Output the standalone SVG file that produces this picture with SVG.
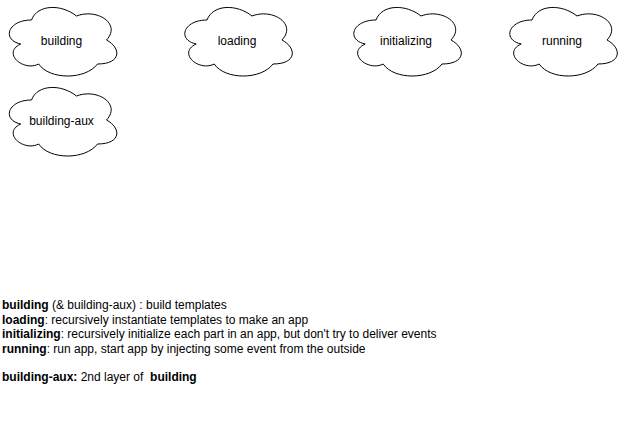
<svg xmlns="http://www.w3.org/2000/svg" width="621" height="421" viewBox="0 0 621 421">
<style>
.cloud{fill:#fff;stroke:#000;stroke-width:1}
.lbl{font-family:"Liberation Sans",Arial,sans-serif;font-size:12px;fill:#000;text-anchor:middle;dominant-baseline:central}
.desc{font-family:"Liberation Sans",Arial,sans-serif;font-size:12px;fill:#000}
.b{font-weight:bold}
</style>
<defs>
<path id="cl" d="M30 20 C6 20 0 40 19.2 44 C0 52.8 21.6 72 37.2 64 C48 80 84 80 96 64 C120 64 120 48 105 40 C120 24 96 8 75 16 C60 4 36 4 30 20 Z"/>
</defs>
<rect width="621" height="421" fill="#fff"/>
<g id="building">
<use href="#cl" class="cloud" x="1.5" y="0"/>
<text class="lbl" x="61.5" y="41">building</text>
</g>
<g id="loading">
<use href="#cl" class="cloud" x="177" y="0"/>
<text class="lbl" x="237" y="41">loading</text>
</g>
<g id="initializing">
<use href="#cl" class="cloud" x="346" y="0"/>
<text class="lbl" x="406" y="41">initializing</text>
</g>
<g id="running">
<use href="#cl" class="cloud" x="502" y="0"/>
<text class="lbl" x="562" y="41">running</text>
</g>
<g id="building-aux">
<use href="#cl" class="cloud" x="1.5" y="80"/>
<text class="lbl" x="61.5" y="121">building-aux</text>
</g>
<g id="connectors"></g>
<g id="legend">
<text class="desc" x="2" y="309"><tspan class="b">building</tspan> (&amp; building-aux) : build templates</text>
<text class="desc" x="2" y="323.5"><tspan class="b">loading</tspan>: recursively instantiate templates to make an app</text>
<text class="desc" x="2" y="338"><tspan class="b">initializing</tspan>: recursively initialize each part in an app, but don't try to deliver events</text>
<text class="desc" x="2" y="352.5"><tspan class="b">running</tspan>: run app, start app by injecting some event from the outside</text>
<text class="desc" x="2" y="381" xml:space="preserve"><tspan class="b">building-aux:</tspan> 2nd layer of  <tspan class="b">building</tspan></text>
</g>
</svg>
